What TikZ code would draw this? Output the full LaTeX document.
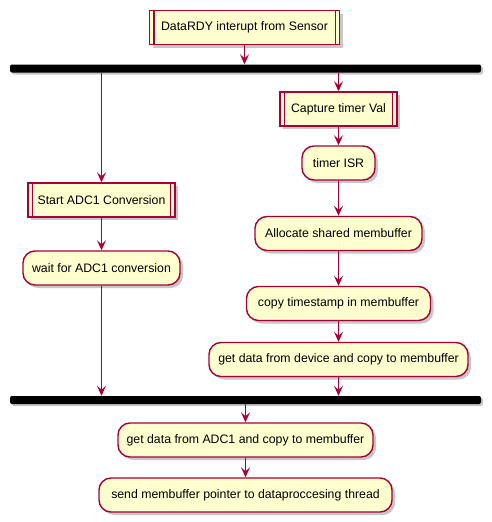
\documentclass[tikz,border=0pt]{standalone}
\usepackage{fontspec}
\setmainfont{Liberation Sans}
\usetikzlibrary{arrows.meta,shadows}
\definecolor{actfill}{HTML}{FEFECE}
\definecolor{actline}{HTML}{A80036}
\begin{document}
\begin{tikzpicture}[x=1pt,y=-1pt,
  base/.style={draw=actline, fill=actfill, line width=1.4pt, inner sep=0pt,
    minimum height=34pt, font=\fontsize{12.3}{14}\selectfont,
    drop shadow={shadow xshift=3pt, shadow yshift=-3pt, fill=black, opacity=0.22}},
  act/.style={base, rounded corners=12pt},
  sub/.style={base},
  forkbar/.style={fill=black, rounded corners=2pt, inner sep=0pt, minimum width=471pt, minimum height=8pt,
    drop shadow={shadow xshift=2pt, shadow yshift=-2pt, fill=black, opacity=0.22}},
  flow/.style={draw=actline, line width=1.5pt, -{Stealth[length=10pt,width=9pt,inset=4pt]}}
]
\useasboundingbox (0,0) rectangle (491,522);
\node[sub, minimum width=190pt] (top) at (244.5,27.5) {DataRDY interupt from Sensor};
\node[forkbar] (bar1) at (245.5,68.5) {};
\node[sub, minimum width=147pt] (start) at (101.5,200) {Start ADC1 Conversion};
\node[act, minimum width=157pt] (wait) at (101.5,268) {wait for ADC1 conversion};
\node[sub, minimum width=117pt] (cap) at (338.5,109) {Capture timer Val};
\node[act, minimum width=73pt] (isr) at (338.5,163) {timer ISR};
\node[act, minimum width=167pt] (alloc) at (338.5,233.5) {Allocate shared membuffer};
\node[act, minimum width=184pt] (copy) at (338.5,303.5) {copy timestamp in membuffer};
\node[act, minimum width=259pt] (dev) at (338.5,359.5) {get data from device and copy to membuffer};
\node[forkbar] (bar2) at (245.5,400) {};
\node[act, minimum width=255pt] (adc) at (245.5,440) {get data from ADC1 and copy to membuffer};
\node[act, minimum width=293pt] (send) at (245.5,495) {send membuffer pointer to dataproccesing thread};
% subroutine inner lines
\foreach \n in {top,start,cap}{
  \draw[actline, line width=1.4pt] ([xshift=5pt]\n.north west) -- ([xshift=5pt]\n.south west);
  \draw[actline, line width=1.4pt] ([xshift=-5pt]\n.north east) -- ([xshift=-5pt]\n.south east);
}
% connectors
\draw[flow] (top.south) -- (top.south |- bar1.north);
\draw[flow] (bar1.south -| start.north) -- (start.north);
\draw[flow] (start.south) -- (wait.north);
\draw[flow] (wait.south) -- (wait.south |- bar2.north);
\draw[flow] (bar1.south -| cap.north) -- (cap.north);
\draw[flow] (cap.south) -- (isr.north);
\draw[flow] (isr.south) -- (alloc.north);
\draw[flow] (alloc.south) -- (copy.north);
\draw[flow] (copy.south) -- (dev.north);
\draw[flow] (dev.south) -- (dev.south |- bar2.north);
\draw[flow] (bar2.south -| adc.north) -- (adc.north);
\draw[flow] (adc.south) -- (send.north);
\end{tikzpicture}
\end{document}
